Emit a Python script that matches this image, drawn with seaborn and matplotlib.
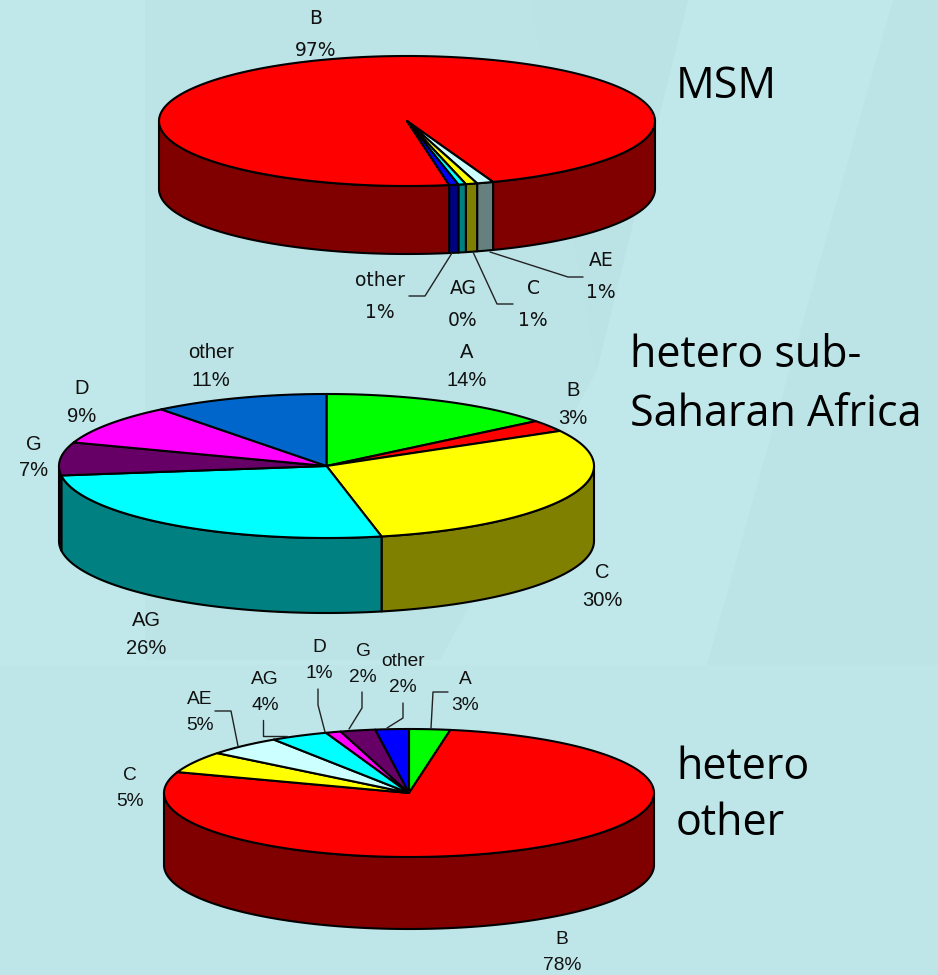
import numpy as np
import matplotlib
matplotlib.use("Agg")
import matplotlib.pyplot as plt
from matplotlib.patches import Polygon
from matplotlib.colors import to_rgb
import seaborn as sns

# Subtype shares (percent), listed clockwise in the order each pie draws them
msm_names = ["B", "AE", "C", "AG", "other"]
msm_values = [97.08, 1.08, 0.75, 0.49, 0.60]
msm_colors = ["#FF0000", "#CCFFFF", "#FFFF00", "#00FFFF", "#0000FF"]

africa_names = ["A", "B", "C", "AG", "G", "D", "other"]
africa_values = [14.3, 2.6, 29.8, 26.2, 7.4, 9.1, 10.6]
africa_colors = ["#00FF00", "#FF0000", "#FFFF00", "#00FFFF", "#660066", "#FF00FF", "#0066CC"]

other_names = ["A", "B", "C", "AE", "AG", "D", "G", "other"]
other_values = [2.7, 77.6, 5.4, 5.0, 3.8, 1.0, 2.3, 2.2]
other_colors = ["#00FF00", "#FF0000", "#FFFF00", "#CCFFFF", "#00FFFF", "#FF00FF", "#660066", "#0000FF"]

BG = "#C0E7EA"
sns.set_theme(style="white", rc={"figure.facecolor": BG, "axes.facecolor": BG})

fig = plt.figure(figsize=(9.38, 9.75), dpi=100)
ax = fig.add_axes([0, 0, 1, 1])
ax.set_xlim(0, 938)
ax.set_ylim(975, 0)
ax.axis("off")

# Faint facets in the slide backdrop
for pts, col in [
    ([(145, 0), (530, 0), (597, 370), (440, 660), (145, 660)], "#BCE4E7"),
    ([(530, 0), (688, 0), (597, 370)], "#BBE3E6"),
    ([(893, 0), (938, 0), (938, 665), (707, 665)], "#BCE3E6"),
    ([(0, 665), (938, 665), (938, 975), (0, 975)], "#BEE5E8"),
]:
    ax.add_patch(Polygon(pts, closed=True, fc=col, ec="none", zorder=0))


def arc(cx, cy, rx, ry, a0, a1):
    t = np.radians(np.linspace(a0, a1, max(int(abs(a1 - a0)) + 2, 3)))
    return np.column_stack([cx + rx * np.sin(t), cy - ry * np.cos(t)])


def draw_pie(values, colors, cx, cy, rx, ry, depth, start=0.0):
    angles = start + np.concatenate([[0], np.cumsum(values)]) / np.sum(values) * 360
    for a0, a1, col in zip(angles[:-1], angles[1:], colors):
        dark = tuple(c * 0.5 for c in to_rgb(col))
        # The wall shows only along the front half of the rim
        for lo, hi in [(90, 270), (450, 630)]:
            s0, s1 = max(a0, lo), min(a1, hi)
            if s1 > s0:
                rim = arc(cx, cy, rx, ry, s0, s1)
                wall = np.vstack([rim, (rim + [0, depth])[::-1]])
                ax.add_patch(Polygon(wall, closed=True, fc=dark, ec="black", lw=1.5,
                                     joinstyle="round", zorder=2))
    for a0, a1, col in zip(angles[:-1], angles[1:], colors):
        top = np.vstack([[cx, cy], arc(cx, cy, rx, ry, a0, a1)])
        ax.add_patch(Polygon(top, closed=True, fc=col, ec="black", lw=1.5,
                             joinstyle="round", zorder=3))


def draw_labels(names, values, places, size):
    total = np.sum(values)
    for name, value in zip(names, values):
        x, y0, y1 = places[name]
        pct = f"{int(value / total * 100 + 0.5)}%"
        ax.text(x, y0 + 1, name, ha="center", va="center", fontsize=size, color="#111111",
                family=places["font"], zorder=5)
        ax.text(x, y1 + 1, pct, ha="center", va="center", fontsize=size, color="#111111",
                family=places["font"], zorder=5)


draw_pie(msm_values, msm_colors, 407, 121, 248, 65, 68, start=170.2)
draw_pie(africa_values, africa_colors, 326.5, 466, 267.5, 72, 75)
draw_pie(other_values, other_colors, 409, 793, 245, 64, 72)

draw_labels(msm_names, msm_values, {
    "font": "DejaVu Sans", "B": (316, 17, 49), "other": (380, 280, 311),
    "AG": (463, 287, 319), "C": (533, 288, 320), "AE": (601, 260, 292)}, 13.5)
draw_labels(africa_names, africa_values, {
    "font": "Liberation Sans", "A": (467, 352, 380), "B": (573, 390, 418),
    "C": (602, 572, 600), "AG": (146, 620, 648), "G": (34, 443, 470),
    "D": (82, 387, 415), "other": (211, 352, 380)}, 14.5)
draw_labels(other_names, other_values, {
    "font": "Liberation Sans", "A": (465, 679, 705), "B": (562, 938, 964),
    "C": (130, 775, 801), "AE": (200, 698, 724), "AG": (265, 679, 705),
    "D": (319, 647, 673), "G": (363, 651, 677), "other": (403, 661, 687)}, 13.8)

# Leader lines from the narrow slices out to their labels
leaders = [
    [(452, 253), (425, 296), (409, 296)],
    [(473, 252), (497, 304), (513, 304)],
    [(490, 252), (568, 277), (583, 277)],
    [(215, 711), (231, 711), (238, 746)],
    [(263, 720), (263, 736), (287, 736)],
    [(318, 689), (318, 705), (325, 732)],
    [(362, 692), (362, 708), (349, 729)],
    [(403, 703), (403, 718), (387, 728)],
    [(448, 692), (433, 692), (431, 728)],
]
for path in leaders:
    xs, ys = zip(*path)
    ax.plot(xs, ys, color="#222222", lw=1.0, zorder=4)

# Group captions
for text, x, y in [("MSM", 676, 87), ("hetero sub-", 630, 356), ("Saharan Africa", 630, 415),
                   ("hetero", 676, 768), ("other", 676, 824)]:
    ax.text(x, y, text, ha="left", va="center", fontsize=31, color="black",
            family="Open Sans", zorder=5)

fig.savefig("out.png", dpi=100, facecolor=BG)
